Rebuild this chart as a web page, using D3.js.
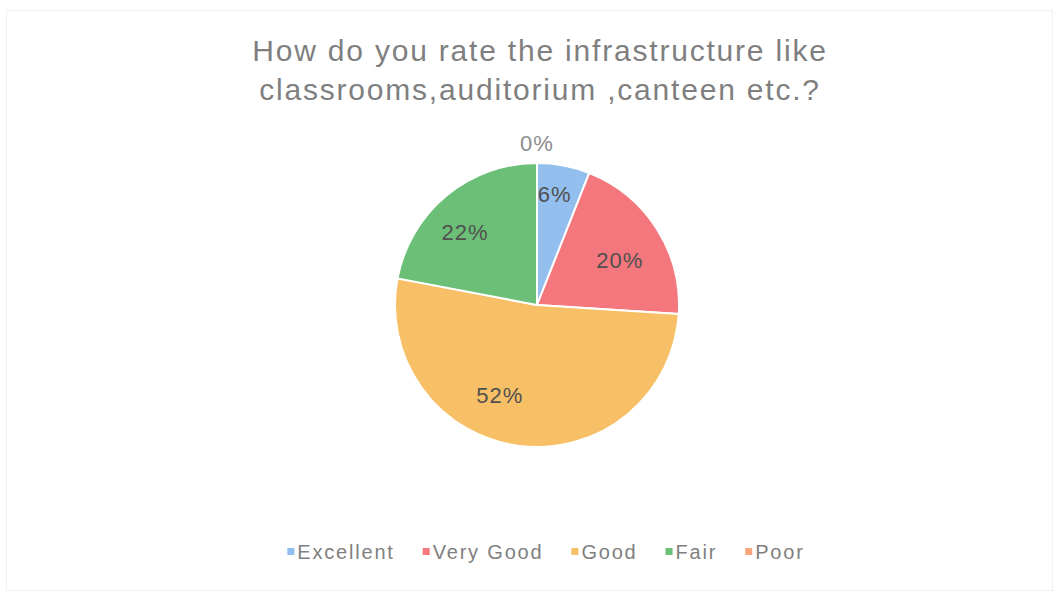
<!DOCTYPE html>
<html>
<head>
<meta charset="utf-8">
<script src="https://cdn.jsdelivr.net/npm/d3@7"></script>
<style>
  html, body { margin: 0; padding: 0; background: #ffffff; }
  svg { display: block; }
</style>
</head>
<body>
<svg id="chart" width="1059" height="596"></svg>
<script>
// Survey responses: infrastructure rating
const categories = ["Excellent", "Very Good", "Good", "Fair", "Poor"];
const percents = [6, 20, 52, 22, 0];
const colors = ["#93bfee", "#f3777c", "#f8c066", "#6bbf76", "#f8a57c"];
const titleLines = ["How do you rate the infrastructure like", "classrooms,auditorium ,canteen etc.?"];

const W = 1059, H = 596;
const cx = 537, cy = 305, R = 142;
const FONT = "Liberation Sans, Arial, sans-serif";

const svg = d3.select("#chart");

// faint chart-area frame
svg.append("rect")
  .attr("x", 6.5).attr("y", 10.5)
  .attr("width", W - 13).attr("height", H - 16)
  .attr("fill", "none").attr("stroke", "#f1f1f1").attr("stroke-width", 1);

// title
svg.append("g").selectAll("text")
  .data(titleLines).join("text")
  .attr("x", 540)
  .attr("y", (d, i) => 61 + i * 39)
  .attr("text-anchor", "middle")
  .attr("font-family", FONT)
  .attr("font-size", 30)
  .attr("letter-spacing", 1.8)
  .attr("fill", "#7f7f7f")
  .text(d => d);

const data = categories.map((c, i) => ({ cat: c, value: percents[i], color: colors[i] }));

const pie = d3.pie().value(d => d.value).sort(null);
const arcs = pie(data);
const arc = d3.arc().innerRadius(0).outerRadius(R);

const g = svg.append("g").attr("transform", `translate(${cx},${cy})`);

g.selectAll("path")
  .data(arcs.filter(a => a.data.value > 0)).join("path")
  .attr("d", arc)
  .attr("fill", d => d.data.color)
  .attr("stroke", "#ffffff")
  .attr("stroke-width", 2);

// data labels: placed on a ring inside the pie, nudged like a best-fit layout
const labelArc = d3.arc().innerRadius(R * 0.74).outerRadius(R * 0.74);
const nudge = {
  "Excellent": [-2, -7],
  "Very Good": [-6, 12],
  "Good": [-24, -14],
  "Fair": [-5, 8]
};

const labels = g.append("g");
arcs.forEach(a => {
  let x, y, fill = "#505050";
  if (a.data.value === 0) {
    // zero slice: label sits just outside the rim
    const ang = a.startAngle;
    x = Math.sin(ang) * (R + 20);
    y = -Math.cos(ang) * (R + 20);
    fill = "#8c8c8c";
  } else {
    [x, y] = labelArc.centroid(a);
    const n = nudge[a.data.cat] || [0, 0];
    x += n[0]; y += n[1];
  }
  labels.append("text")
    .attr("x", x).attr("y", y)
    .attr("dy", "0.35em")
    .attr("text-anchor", "middle")
    .attr("font-family", FONT)
    .attr("font-size", 22)
    .attr("letter-spacing", 1)
    .attr("fill", fill)
    .text(a.data.value + "%");
});

// legend
const legend = svg.append("g");
const legendItems = legend.selectAll("g").data(data).join("g");
legendItems.append("rect")
  .attr("width", 7).attr("height", 7)
  .attr("y", -4)
  .attr("fill", d => d.color);
legendItems.append("text")
  .attr("x", 10)
  .attr("dy", "0.35em")
  .attr("font-family", FONT)
  .attr("font-size", 20)
  .attr("letter-spacing", 1.8)
  .attr("fill", "#808080")
  .text(d => d.cat);

// lay out legend entries centered under the chart
let offsets = [], acc = 0;
legendItems.each(function () {
  const w = this.getBBox().width;
  offsets.push(acc);
  acc += w + 28;
});
const total = acc - 28;
const startX = 546 - total / 2;
legendItems.attr("transform", (d, i) => `translate(${startX + offsets[i]},552)`);
</script>
</body>
</html>
